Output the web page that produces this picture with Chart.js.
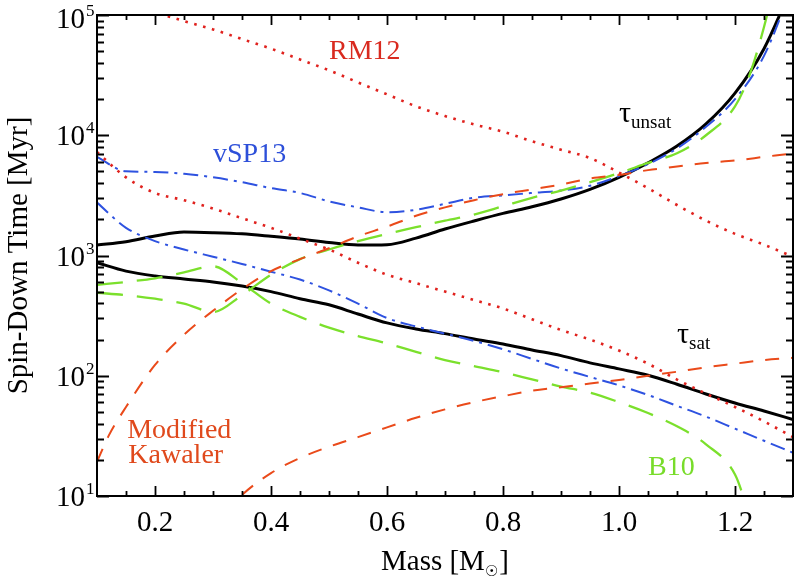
<!DOCTYPE html>
<html><head><meta charset="utf-8">
<script src="https://cdn.jsdelivr.net/npm/chart.js@4.4.1/dist/chart.umd.min.js"></script>
<style>html,body{margin:0;padding:0;background:#fff}canvas{display:block}</style>
</head><body>
<canvas id="c" width="796" height="584"></canvas>
<script>
// ---- data (Mass in solar masses, spin-down time in Myr) ----
const massGrid = [0.10,0.15,0.20,0.25,0.30,0.35,0.40,0.45,0.50,0.55,0.60,0.65,0.70,0.75,0.80,0.85,0.90,0.95,1.00,1.05,1.10,1.15,1.20,1.25,1.30];
const tauUnsat  = [1222,1303,1452,1567,1549,1514,1445,1371,1282,1222,1230,1396,1660,1936,2239,2541,2951,3548,4467,5888,8128,12420,22390,52480,180000];
const tauSat    = [871,741,676,638,603,557,501,437,389,326,275,245,224,202,184,164,147,128,114,101,85,70.5,59.3,50.9,43.3];
const rm12Unsat = [144500,123000,104700,89100,75900,63100,52500,42700,34700,27500,21900,17400,14450,12300,10700,8913,7586,6457,4898,3631,2630,1950,1514,1230,977];
const rm12Sat   = [7244,4467,3311,2884,2455,2042,1698,1380,1122,871,692,589,501,427,363,295,240,200,162,126,93,71,55,41.7,30.9];
const vsp13Unsat= [6607,5012,4955,4786,4467,4074,3631,3311,2818,2512,2291,2399,2692,3020,3162,3311,3467,3802,4571,5754,7762,11750,19950,45700,178000];
const vsp13Sat  = [2754,1698,1318,1122,977,851,733,631,513,398,302,257,224,195,166,138,115,97.7,83.2,69.2,56.2,45.7,36.3,28.8,22.9];
const b10SatMass   = [0.10,0.15,0.20,0.25,0.30,0.35,0.40,0.45,0.50,0.55,0.60,0.65,0.70,0.75,0.80,0.85,0.90,0.95,1.00,1.05,1.10,1.15,1.20,1.22];
const b10Sat       = [569,603,646,724,813,589,398,309,251,214,186,158,135,120,107,93.3,81.3,72.4,60.3,49,38,26.9,15.1,8.3];
const b10UnsatMass = [0.10,0.15,0.20,0.25,0.30,0.35,0.40,0.45,0.50,0.55,0.60,0.65,0.70,0.75,0.80,0.85,0.90,0.95,1.00,1.05,1.10,1.15,1.20,1.225,1.25,1.27];
const b10Unsat     = [490,468,437,398,339,468,692,933,1122,1318,1514,1718,1950,2188,2570,3020,3467,4074,4842,5888,7079,10000,17380,31620,79430,199500];
const kawUnsatMass = [0.10,0.12,0.15,0.20,0.25,0.30,0.35,0.40,0.45,0.50,0.55,0.60,0.65,0.70,0.75,0.80,0.85,0.90,0.95,1.00,1.05,1.10,1.15,1.20,1.25,1.30];
const kawUnsat     = [19.3,31.6,55,123,219,347,525,741,933,1148,1445,1738,2138,2512,2884,3236,3548,3890,4365,4677,5129,5495,5888,6166,6607,7079];
const kawSatMass   = [0.32,0.35,0.40,0.45,0.50,0.55,0.60,0.65,0.70,0.75,0.80,0.85,0.90,0.95,1.00,1.05,1.10,1.15,1.20,1.25,1.30];
const kawSat       = [7.1,10.2,15.5,20.7,25.7,30.9,37.2,44.7,52.5,60.3,67.6,75,80.4,86.1,92.3,100,108,117.5,126,135,141];

const xTickValues = [0.2,0.4,0.6,0.8,1.0,1.2];
const xTickLabels = ['0.2','0.4','0.6','0.8','1.0','1.2'];
const yTickValues = [10,100,1000,10000,100000];
const yTickExponents = ['1','2','3','4','5'];

// ---- styling ----
const SERIF = '"Liberation Serif","Times New Roman",serif';
const C_BLACK='#000000', C_RED='#E0221E', C_BLUE='#2E52E0', C_GREEN='#7BE02C', C_ORANGE='#EA4A1A';
const pts = (xs, ys) => xs.map((m,i)=>({x:m, y:ys[i]}));

function ds(label, xs, ys, color, width, dash){
  return {label, data: pts(xs, ys), borderColor: color, borderWidth: width, borderDash: dash,
          pointRadius: 0, fill: false, cubicInterpolationMode: 'monotone', borderCapStyle: 'butt'};
}

const datasets = [
  ds('RM12 unsat', massGrid, rm12Unsat, C_RED, 2.6, [2.6,6.6]),
  ds('RM12 sat', massGrid, rm12Sat, C_RED, 2.6, [2.6,6.6]),
  ds('Kawaler unsat', kawUnsatMass, kawUnsat, C_ORANGE, 2, [14,12]),
  ds('Kawaler sat', kawSatMass, kawSat, C_ORANGE, 2, [14,12]),
  ds('B10 unsat', b10UnsatMass, b10Unsat, C_GREEN, 2.3, [26,14]),
  ds('B10 sat', b10SatMass, b10Sat, C_GREEN, 2.3, [26,14]),
  ds('vSP13 unsat', massGrid, vsp13Unsat, C_BLUE, 2, [15,6,3,6]),
  ds('vSP13 sat', massGrid, vsp13Sat, C_BLUE, 2, [15,6,3,6]),
  ds('tau unsat', massGrid, tauUnsat, C_BLACK, 3, []),
  ds('tau sat', massGrid, tauSat, C_BLACK, 3, [])
];

const textLabels = [
  {t:'RM12', m:0.50, v:43000, c:'#D92A1F'},
  {t:'vSP13', m:0.30, v:6000, c:'#2D4FD9'},
  {t:'Modified', m:0.152, v:30.3, c:'#E0491C'},
  {t:'Kawaler', m:0.154, v:18.8, c:'#E0491C'},
  {t:'B10', m:1.05, v:15.0, c:'#78DC2A'}
];
const tauLabels = [
  {sub:'unsat', m:1.0, v:12880},
  {sub:'sat', m:1.10, v:187}
];

const decor = {
  id: 'decor',
  afterDatasetsDraw(chart){
    const {ctx, chartArea:a, scales:{x, y}} = chart;
    ctx.save();
    // frame
    ctx.strokeStyle = '#000'; ctx.lineWidth = 2;
    ctx.strokeRect(a.left, a.top, a.right - a.left, a.bottom - a.top);
    // x ticks (inward, bottom and top)
    ctx.lineWidth = 1.8; ctx.beginPath();
    for (let k = 3; k <= 25; k++){
      const v = k * 0.05; const major = (k % 4 === 0); const len = major ? 10 : 5;
      const px = Math.round(x.getPixelForValue(v)) + 0.5;
      ctx.moveTo(px, a.bottom); ctx.lineTo(px, a.bottom - len);
      ctx.moveTo(px, a.top); ctx.lineTo(px, a.top + len);
    }
    // y ticks (inward, left and right)
    for (let d = 1; d <= 5; d++){
      for (let m = 1; m <= 9; m++){
        const v = m * Math.pow(10, d); if (v > 100000) break;
        const len = (m === 1) ? 12 : 7;
        const py = Math.round(y.getPixelForValue(v)) + 0.5;
        ctx.moveTo(a.left, py); ctx.lineTo(a.left + len, py);
        ctx.moveTo(a.right, py); ctx.lineTo(a.right - len, py);
      }
    }
    ctx.stroke();
    // y tick labels 10^n
    ctx.fillStyle = '#000';
    yTickValues.forEach((v, i) => {
      const py = y.getPixelForValue(v) + (i === yTickValues.length - 1 ? 3 : 0);
      ctx.font = '29px ' + SERIF; ctx.textAlign = 'right'; ctx.textBaseline = 'alphabetic';
      ctx.fillText('10', 85, py + 10);
      ctx.font = '17px ' + SERIF; ctx.textAlign = 'left';
      ctx.fillText(yTickExponents[i], 86, py - 2);
    });
    // axis titles
    ctx.font = '29px ' + SERIF; ctx.textAlign = 'left';
    const t1 = 'Mass [M', t2 = ']';
    const w1 = ctx.measureText(t1).width;
    ctx.font = '15px "DejaVu Sans",sans-serif';
    const ws = ctx.measureText('\u2609').width;
    ctx.font = '29px ' + SERIF;
    const w2 = ctx.measureText(t2).width;
    const total = w1 + ws + w2 + 1;
    const cx = (a.left + a.right) / 2;
    const sx = cx - total / 2;
    const base = 570;
    ctx.fillText(t1, sx, base);
    ctx.font = '15px "DejaVu Sans",sans-serif'; ctx.fillText('\u2609', sx + w1, base + 6);
    ctx.font = '29px ' + SERIF; ctx.fillText(t2, sx + w1 + ws + 1, base);
    ctx.save();
    ctx.translate(27, (a.top + a.bottom) / 2);
    ctx.rotate(-Math.PI / 2);
    ctx.textAlign = 'center';
    ctx.fillText('Spin-Down Time [Myr]', 0, 0);
    ctx.restore();
    // curve labels
    ctx.textAlign = 'left';
    textLabels.forEach(l => {
      ctx.font = '28px ' + SERIF; ctx.fillStyle = l.c;
      ctx.fillText(l.t, x.getPixelForValue(l.m), y.getPixelForValue(l.v));
    });
    ctx.fillStyle = '#000';
    tauLabels.forEach(l => {
      const px = x.getPixelForValue(l.m), py = y.getPixelForValue(l.v);
      ctx.font = '30px ' + SERIF; ctx.fillText('\u03C4', px, py);
      const wt = ctx.measureText('\u03C4').width;
      ctx.font = '19px ' + SERIF; ctx.fillText(l.sub, px + wt, py + 6);
    });
    ctx.restore();
  }
};

new Chart(document.getElementById('c'), {
  type: 'line',
  data: { datasets },
  options: {
    responsive: false, animation: false, devicePixelRatio: 1,
    layout: { padding: { top: 15, right: 3, left: 0, bottom: 0 } },
    plugins: { legend: { display: false }, tooltip: { enabled: false } },
    scales: {
      x: {
        type: 'linear', min: 0.1, max: 1.3,
        grid: { display: false, drawTicks: false }, border: { display: false },
        afterBuildTicks: s => { s.ticks = xTickValues.map(v => ({ value: v })); },
        afterFit: s => { s.height = 88; },
        ticks: { color: '#000', padding: 10, maxRotation: 0, autoSkip: false,
                 font: { family: SERIF, size: 29 },
                 callback: (v, i) => xTickLabels[i] }
      },
      y: {
        type: 'logarithmic', min: 10, max: 100000,
        grid: { display: false, drawTicks: false }, border: { display: false },
        afterBuildTicks: s => { s.ticks = yTickValues.map(v => ({ value: v })); },
        afterFit: s => { s.width = 97; },
        ticks: { display: false }
      }
    }
  },
  plugins: [decor]
});
</script>
</body></html>
